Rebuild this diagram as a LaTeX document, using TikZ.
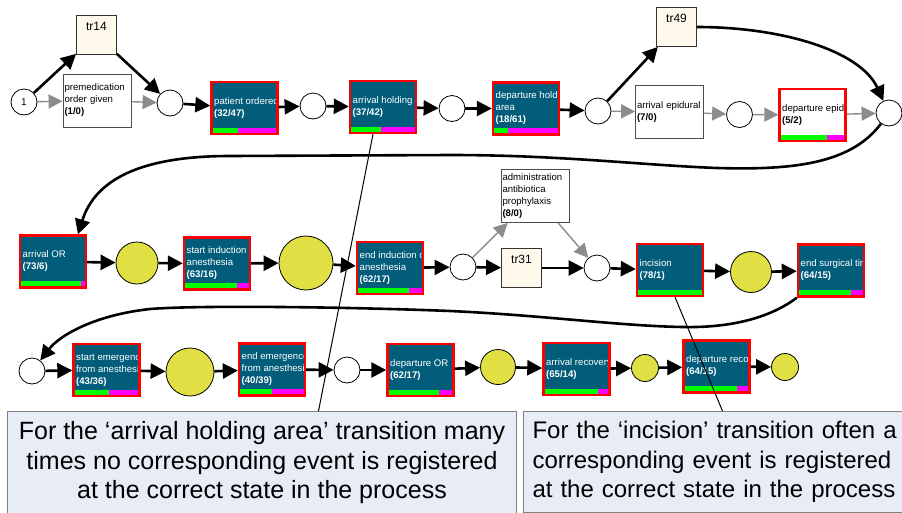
\documentclass[tikz,border=0pt]{standalone}
\usepackage{fontspec}
\setmainfont{Liberation Sans}
\usetikzlibrary{arrows.meta}

\definecolor{tblue}{RGB}{2,93,122}
\definecolor{tyellow}{RGB}{224,223,68}
\definecolor{tcream}{RGB}{255,249,236}
\definecolor{notefill}{RGB}{231,236,247}
\definecolor{fitgreen}{RGB}{0,255,0}
\definecolor{misspink}{RGB}{255,0,255}

\begin{document}
\begin{tikzpicture}
  [x=1pt,y=-1pt,
   place/.style={circle,draw,line width=0.8pt,fill=white,minimum size=26pt,inner sep=0pt,
     font=\fontsize{10}{12}\selectfont},
   yplace/.style={place,fill=tyellow,minimum size=#1},
   silent/.style={rectangle,draw=black!80,line width=0.8pt,fill=tcream,minimum width=40pt,
     inner xsep=0pt,inner ysep=3pt,text height=12pt,text depth=21pt,
     font=\fontsize{12}{14}\selectfont},
   whitebox/.style={rectangle,draw=black!70,line width=0.8pt,fill=white,
     minimum height=53pt,text width=65pt,inner xsep=1.5pt,align=left,
     font=\fontsize{9.6}{12}\selectfont},
   tbox/.style n args={4}{rectangle,draw=red,line width=2.4pt,
     minimum width=66pt,minimum height=52pt,inner sep=0pt,
     path picture={
       \fill[misspink] ([yshift=6.5pt]path picture bounding box.south west)
         rectangle (path picture bounding box.south east);
       \fill[fitgreen] (path picture bounding box.south west)
         rectangle ++({#2/(#2+#3)*66pt},6.5pt);
       \node[anchor=west,align=left,inner sep=0pt,minimum size=0pt,text=#4,
         font=\fontsize{9.6}{12}\selectfont]
         at ([xshift=1.5pt]path picture bounding box.west) {#1\\\textbf{(#2/#3)}};
     }},
   busy/.style n args={3}{tbox={#1}{#2}{#3}{white},fill=tblue},
   redbox/.style n args={3}{tbox={#1}{#2}{#3}{black},fill=white},
   flow/.style={line width=2.6pt,-{Triangle[length=15pt,width=15pt]}},
   faint/.style={draw=black!45,line width=1.4pt,-{Triangle[length=14pt,width=14pt]}},
   note/.style={rectangle,draw=black!50,line width=1pt,fill=notefill,inner xsep=10pt,
     inner ysep=10pt,font=\fontsize{25}{29.5}\selectfont}]

  \clip (0,0) rectangle (902,512);

  % first row
  \node [place] (p1) at (24,102) {1};
  \node [silent] (tr14) at (96.5,35) {tr14};
  \node [whitebox] (premed) at (97,100.5) {premedication\\order given\\\textbf{(1/0)}};
  \node [place] (p2) at (170,103) {};
  \node [busy={patient ordered}{32}{47}] (patient) at (244.5,108) {};
  \node [place] (p3) at (313,106) {};
  \node [busy={arrival holding a}{37}{42}] (holdin) at (383,107) {};
  \node [place] (p4) at (452,108.5) {};
  \node [busy={departure holdi\\area}{18}{61}] (holdout) at (526,108.5) {};
  \node [place] (p5) at (598,111) {};
  \node [silent] (tr49) at (676.5,27) {tr49};
  \node [whitebox] (epiin) at (669.5,112) {arrival epidural\\\textbf{(7/0)}};
  \node [place] (p6) at (739.5,114.5) {};
  \node [redbox={departure epidu}{5}{2}] (epiout) at (812.5,115) {};
  \node [place] (p7) at (889,113) {};

  % second row
  \node [busy={arrival OR}{73}{6}] (arrOR) at (53,261.5) {};
  \node [yplace=42pt] (yA) at (137,263) {};
  \node [busy={start induction o\\anesthesia}{63}{16}] (indstart) at (217,263.5) {};
  \node [yplace=54pt] (yB) at (306,263) {};
  \node [busy={end induction o\\anesthesia}{62}{17}] (indend) at (390,268) {};
  \node [place] (pC) at (463,267) {};
  \node [whitebox] (antibio) at (535,196) {administration\\antibiotica\\prophylaxis\\\textbf{(8/0)}};
  \node [silent] (tr31) at (521.5,268) {tr31};
  \node [place] (pD) at (597,268) {};
  \node [busy={incision}{78}{1}] (incision) at (670,270) {};
  \node [yplace=41pt] (yE) at (751,272) {};
  \node [busy={end surgical tim}{64}{15}] (surgend) at (831,270.5) {};

  % third row
  \node [place] (pF) at (32,371) {};
  \node [busy={start emergence\\from anesthesi}{43}{36}] (emstart) at (106.5,370) {};
  \node [yplace=48pt] (yG) at (190,372) {};
  \node [busy={end emergence\\from anesthesi}{40}{39}] (emend) at (272,369.5) {};
  \node [place] (pH) at (347,370) {};
  \node [busy={departure OR}{62}{17}] (orout) at (420.5,370) {};
  \node [yplace=35pt] (yI) at (498,367) {};
  \node [busy={arrival recovery}{65}{14}] (recin) at (576.5,369) {};
  \node [yplace=27pt] (yJ) at (645,368) {};
  \node [busy={departure recov}{64}{15}] (recout) at (716.5,366.5) {};
  \node [yplace=27pt] (yK) at (785,367) {};

  \foreach \from/\to in {p1/tr14,tr14/p2,p2/patient,patient/p3,p3/holdin,holdin/p4,p4/holdout,
      holdout/p5,p5/tr49,arrOR/yA,yA/indstart,indstart/yB,yB/indend,indend/pC,pC/tr31,tr31/pD,
      pD/incision,incision/yE,yE/surgend,pF/emstart,emstart/yG,yG/emend,emend/pH,pH/orout,
      orout/yI,yI/recin,recin/yJ,yJ/recout,recout/yK}
    \draw [flow] (\from) -- (\to);

  \foreach \from/\to in {p1/premed,premed/p2,p5/epiin,epiin/p6,p6/epiout,epiout/p7,
      pC/antibio,antibio/pD}
    \draw [faint] (\from) -- (\to);

  % long arcs between the rows
  \draw [flow] (tr49) .. controls (780,27) and (860,50) .. (p7);
  \draw [flow] (p7) .. controls (850,165) and (790,170) .. (717,168)
    .. controls (640,165) and (560,155) .. (450,155) -- (230,156)
    .. controls (140,156) and (95,180) .. ([xshift=25pt]arrOR.north);
  \draw [flow] (surgend.south west) .. controls (770,318) and (730,328) .. (683,327)
    .. controls (620,326) and (540,315) .. (450,311)
    .. controls (350,307) and (200,305) .. (150,309)
    .. controls (95,315) and (60,335) .. (pF);

  % callouts
  \node [note,anchor=north west,minimum width=509pt,align=center] (noteA) at (7,411)
    {For the ‘arrival holding area’ transition many\\times no corresponding event is registered\\at the correct state in the process};
  \node [note,anchor=north west,text width=480pt,inner xsep=9pt,align=left,
    font=\fontsize{24}{29.5}\selectfont] (noteB) at (523,411)
    {For the ‘incision’ transition often a\\corresponding event is registered\\at the correct state in the process};

  \draw [line width=1pt] ([xshift=-10pt]holdin.south) -- ([xshift=56.5pt]noteA.north);
  \draw [line width=1pt] ([xshift=5pt]incision.south) -- ([xshift=-50pt]noteB.north);
\end{tikzpicture}
\end{document}
